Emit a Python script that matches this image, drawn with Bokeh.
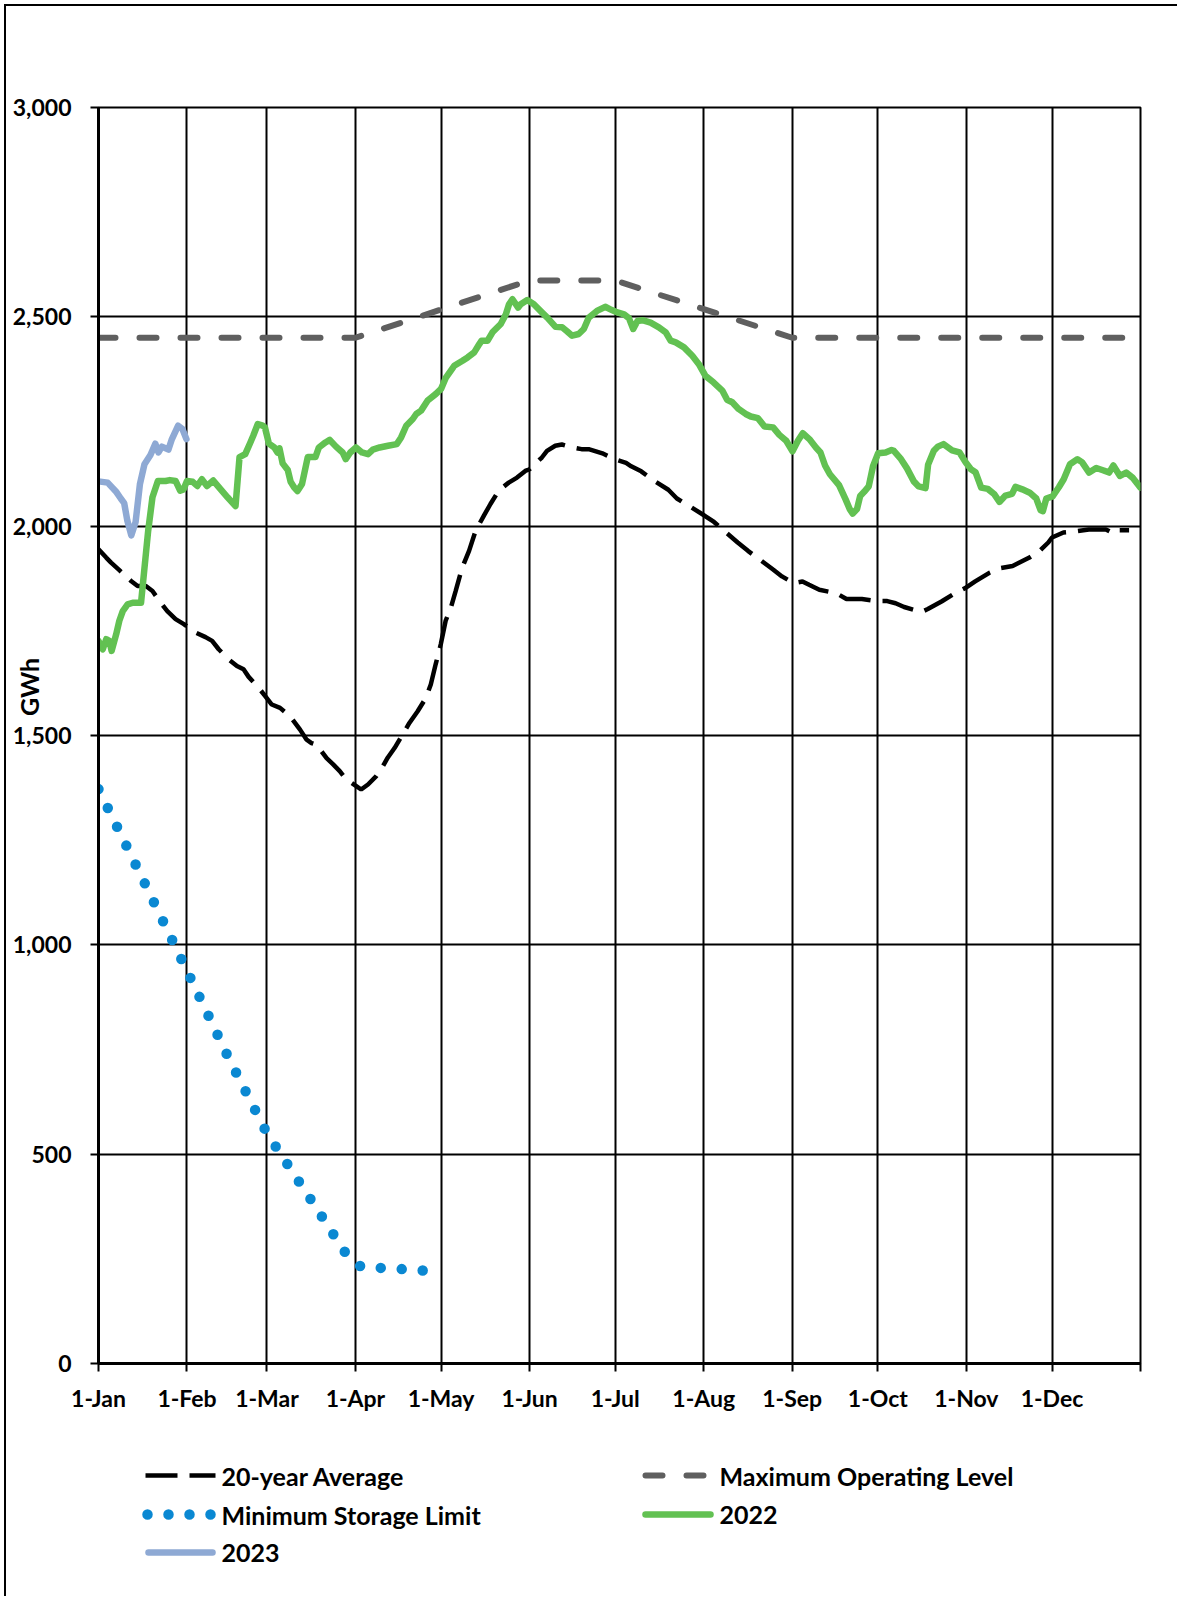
from bokeh.plotting import figure
from bokeh.models import FixedTicker, NumeralTickFormatter, Range1d
from bokeh.layouts import column
from bokeh.embed import file_html
from bokeh.resources import INLINE
from bokeh.core.properties import value

FONT = "Lato"

# ---------------- data ----------------
month_ticks = [0, 31, 59, 90, 120, 151, 181, 212, 243, 273, 304, 334, 365]
month_labels = ["1-Jan", "1-Feb", "1-Mar", "1-Apr", "1-May", "1-Jun", "1-Jul",
                "1-Aug", "1-Sep", "1-Oct", "1-Nov", "1-Dec", ""]
y_ticks = [0, 500, 1000, 1500, 2000, 2500, 3000]
y_title = "GWh"

# 20-year Average (day of year, GWh)
avg_days = [0, 2.7, 4.4, 7.3, 11.4, 13.7, 16.6, 18.9, 21.8, 24.1,
            27, 29.9, 34, 37.5, 39.8, 42.1, 45.6, 48.5, 50.8, 52.6,
            56.1, 58.4, 60.7, 63.6, 67.1, 70.6, 72.9, 74.6, 76.4, 79.9,
            82.2, 84.5, 86.8, 90.3, 92, 94.4, 97.3, 99, 101.3, 103.7,
            106.5, 108.9, 111.8, 114.7, 116.4, 118.1, 119.9, 121.6, 123.4, 125.1,
            127.4, 129.8, 132.1, 135, 137.3, 140.2, 143.7, 146.6, 149.5, 151,
            155.3, 157.1, 160, 162.3, 166, 169.2, 171.7, 176.5, 181.2, 184.8,
            186.6, 190.1, 194.9, 199.6, 202.6, 207.4, 212.1, 215.6, 219.8, 223.9,
            227.5, 232.3, 236.4, 239.4, 243.5, 246.6, 248.9, 252.5, 258.4, 262,
            267.4, 272.7, 276.3, 279.2, 282.2, 288.2, 290.5, 295.3, 300, 303.6,
            307.1, 311.9, 316, 320.2, 326.1, 329.7, 332.7, 334, 338, 342.8,
            346.9, 352.9, 355.8, 357.3, 361]
avg_vals = [1945, 1925, 1913, 1895, 1869, 1857, 1857, 1845, 1817, 1797,
            1778, 1766, 1746, 1735, 1726, 1706, 1682, 1666, 1658, 1640,
            1614, 1594, 1574, 1566, 1546, 1514, 1490, 1482, 1478, 1446,
            1431, 1415, 1395, 1379, 1371, 1383, 1403, 1419, 1447, 1470,
            1502, 1530, 1558, 1590, 1622, 1670, 1718, 1774, 1805, 1845,
            1901, 1941, 1989, 2025, 2053, 2085, 2104, 2116, 2132, 2136,
            2164, 2180, 2192, 2195, 2188, 2184, 2184, 2174, 2159, 2151,
            2143, 2131, 2107, 2087, 2066, 2046, 2026, 2010, 1985, 1961,
            1941, 1917, 1896, 1880, 1864, 1868, 1860, 1848, 1840, 1826,
            1826, 1821, 1821, 1816, 1807, 1795, 1802, 1820, 1840, 1852,
            1868, 1888, 1900, 1905, 1925, 1941, 1961, 1973, 1985, 1988,
            1992, 1992, 1982, 1990, 1990]

# Maximum Operating Level
max_days = [0, 90, 151, 181, 243, 365]
max_vals = [2450, 2450, 2587, 2587, 2450, 2450]

# Minimum Storage Limit
min_days = [0, 14, 31, 45, 59, 73, 87, 92, 105, 119]
min_vals = [1372, 1178, 938, 738, 550, 406, 259, 231, 226, 220]

# 2022
y2022_days = [0, 1.5, 2.7, 3.8, 4.6, 6.2, 7.3, 8.5, 10.2, 12,
              14.9, 16, 17.4, 18.9, 20.8, 23.5, 25, 27, 28.6, 29.8,
              31, 33, 34.6, 36.2, 38, 40.2, 42.8, 45.2, 48, 49.4,
              51.4, 53.2, 54.2, 55.8, 57.5, 58.3, 59.7, 61.6, 62.7, 63.4,
              64.5, 66.3, 67.3, 68.5, 69.7, 71.3, 73.3, 76, 77.2, 79.5,
              81, 83.2, 85.5, 86.6, 88.2, 90.2, 92.3, 94.4, 96.1, 98.5,
              101.4, 104.5, 106, 107.8, 110.1, 111.3, 113, 115.3, 118.2, 120,
              121.7, 124.6, 127.5, 129.3, 131.6, 133.4, 134.2, 136.3, 138, 140.9,
              142.7, 143.8, 145, 147, 147.9, 150.2, 152.5, 155.4, 157.2, 160.1,
              162.4, 164.2, 165.9, 168.2, 170, 171.7, 174.6, 177.5, 179.3, 181.2,
              184.1, 185.8, 187.3, 188.8, 190.5, 193.4, 196.3, 198.7, 200.4, 202.2,
              205.1, 208, 210.3, 212.6, 215.5, 218.5, 220.2, 222, 224.2, 226.7,
              228.5, 231, 233.3, 236.3, 238.5, 240.9, 243.1, 245, 246.7, 249,
              251.3, 252.9, 254.5, 256.2, 259.4, 261.7, 263.2, 264.2, 265.7, 266.8,
              268.2, 269.8, 271.3, 273.1, 275.7, 277.8, 278.6, 280.9, 283.2, 285.6,
              287.3, 289.7, 290.6, 292.6, 294, 296, 299, 301.6, 303.8, 305.6,
              307.2, 309.2, 311.5, 313.7, 315.6, 317.7, 320, 321.2, 323.6, 326.2,
              328.5, 330, 330.8, 332, 334.2, 336.4, 338.1, 340.3, 342.9, 344.5,
              347, 349.5, 352.1, 354, 355.5, 357.8, 360, 362.2, 365]
y2022_vals = [1726, 1706, 1730, 1726, 1702, 1742, 1774, 1797, 1813, 1817,
              1817, 1893, 1989, 2069, 2108, 2108, 2110, 2108, 2085, 2088,
              2108, 2106, 2096, 2112, 2096, 2109, 2088, 2069, 2048, 2165,
              2172, 2200, 2216, 2244, 2240, 2236, 2197, 2188, 2176, 2186,
              2150, 2134, 2106, 2093, 2084, 2101, 2165, 2165, 2188, 2200,
              2206, 2190, 2176, 2160, 2176, 2188, 2176, 2172, 2183, 2188,
              2192, 2196, 2212, 2240, 2256, 2268, 2276, 2300, 2316, 2328,
              2355, 2383, 2395, 2403, 2415, 2435, 2443, 2443, 2463, 2483,
              2506, 2530, 2542, 2522, 2530, 2540, 2530, 2510, 2498, 2476,
              2475, 2465, 2455, 2459, 2471, 2498, 2514, 2524, 2518, 2512,
              2506, 2497, 2471, 2490, 2492, 2486, 2475, 2463, 2443, 2439,
              2427, 2407, 2387, 2359, 2343, 2324, 2302, 2296, 2280, 2268,
              2262, 2258, 2238, 2236, 2218, 2204, 2179, 2204, 2222, 2208,
              2188, 2176, 2145, 2124, 2098, 2064, 2040, 2030, 2041, 2072,
              2082, 2095, 2143, 2174, 2176, 2182, 2180, 2162, 2138, 2107,
              2095, 2091, 2147, 2180, 2190, 2196, 2181, 2176, 2152, 2136,
              2129, 2092, 2089, 2077, 2058, 2073, 2077, 2094, 2088, 2080,
              2066, 2038, 2036, 2066, 2071, 2093, 2112, 2148, 2160, 2153,
              2128, 2139, 2133, 2128, 2145, 2120, 2128, 2116, 2092]

# 2023
y2023_days = [0, 3.2, 6.1, 7.8, 9, 10.1, 11.5, 13, 14.5, 16.1,
              18.2, 19.9, 21, 22.2, 24.5, 25.6, 27.9, 29.4, 30.8]
y2023_vals = [2107, 2104, 2083, 2066, 2055, 2013, 1978, 2010, 2100, 2148,
              2170, 2197, 2176, 2190, 2183, 2206, 2240, 2232, 2208]

legend_labels = ["20-year Average", "Maximum Operating Level",
                 "Minimum Storage Limit", "2022", "2023"]

# ---------------- styles ----------------
C_AVG = "black"
C_MAX = "#5f5f5f"
C_MIN = "#0a88d2"
C_22 = "#62c152"
C_23 = "#8ea9d4"

ORIG = 6                      # page offset of the figures (margin + border)
BL, BR, BT, BB = 92, 37, 101, 67
FW, FH = 1042, 1256

p = figure(frame_width=FW, frame_height=FH,
           min_border_left=BL, min_border_top=BT, min_border_right=BR,
           min_border_bottom=BB,
           x_range=Range1d(0, 365), y_range=Range1d(0, 3000),
           output_backend="svg", toolbar_location=None,
           background_fill_color="white", border_fill_color="white")

p.line(avg_days, avg_vals, line_color=C_AVG, line_width=4.5, line_dash="32 12")
p.line(max_days, max_vals, line_color=C_MAX, line_width=6, line_dash="17 24",
       line_cap="round")
p.line(min_days, min_vals, line_color=C_MIN, line_width=10.5, line_dash="0 21",
       line_cap="round")
p.line(y2022_days, y2022_vals, line_color=C_22, line_width=6.5,
       line_join="round", line_cap="round")
p.line(y2023_days, y2023_vals, line_color=C_23, line_width=6.5,
       line_join="round", line_cap="round")

p.xaxis.ticker = FixedTicker(ticks=month_ticks)
p.xaxis.major_label_overrides = {t: l for t, l in zip(month_ticks, month_labels)}
p.yaxis.ticker = FixedTicker(ticks=y_ticks)
p.yaxis.formatter = NumeralTickFormatter(format="0,0")
p.xgrid.ticker = FixedTicker(ticks=month_ticks)
p.ygrid.ticker = FixedTicker(ticks=y_ticks)

p.grid.grid_line_color = "black"
p.grid.grid_line_width = 2
p.grid.grid_line_alpha = 1

p.outline_line_color = "black"
p.outline_line_width = 2
p.outline_line_alpha = 1

for ax in (p.xaxis[0], p.yaxis[0]):
    ax.axis_line_color = "black"
    ax.axis_line_width = 3
    ax.major_tick_line_color = "black"
    ax.major_tick_line_width = 2
    ax.major_tick_out = 8
    ax.major_tick_in = 0
    ax.minor_tick_line_color = None
    ax.major_label_text_font = FONT
    ax.major_label_text_font_style = "bold"
    ax.major_label_text_font_size = "23px"
    ax.major_label_text_color = "black"

p.xaxis.major_label_standoff = 12
p.yaxis.major_label_standoff = 19

# axis title: sits above the frame's vertical centre (padding with no-break spaces)
p.yaxis.axis_label = "\u00a0" * 16 + y_title
p.yaxis.axis_label_text_font = FONT
p.yaxis.axis_label_text_font_style = "bold"
p.yaxis.axis_label_text_font_size = "25px"
p.yaxis.axis_label_text_color = "black"
p.yaxis.axis_label_standoff = -34

# ---------------- legend ----------------
LH = 166
LEG_TOP = ORIG + BT + FH + BB          # page y of legend figure top
leg = figure(frame_width=FW, height=LH,
             x_range=Range1d(ORIG + BL, ORIG + BL + FW), y_range=Range1d(LH, 0),
             output_backend="svg", toolbar_location=None,
             x_axis_location=None, y_axis_location=None,
             min_border_left=BL, min_border_right=BR, min_border_top=0,
             min_border_bottom=0, background_fill_color="white",
             border_fill_color="white")
leg.grid.visible = False
leg.outline_line_color = None

row_y = [1475 - LEG_TOP, 1514 - LEG_TOP, 1552 - LEG_TOP]
c1_x0, c1_x1, c1_t = 145, 215, 221
c2_x0, c2_x1, c2_t = 642, 713, 719

leg.line([c1_x0, c1_x1], [row_y[0]] * 2, line_color=C_AVG, line_width=4.5,
         line_dash="32 12")
leg.line([c2_x0 + 3, c2_x1 - 4], [row_y[0]] * 2, line_color=C_MAX, line_width=6,
         line_dash="17 24", line_cap="round")
leg.line([c1_x0 + 2, c1_x1 - 2.5], [row_y[1]] * 2, line_color=C_MIN,
         line_width=10.5, line_dash="0 21", line_cap="round")
leg.line([c2_x0 + 3, c2_x1 - 3], [row_y[1]] * 2, line_color=C_22, line_width=6.5,
         line_cap="round")
leg.line([c1_x0 + 3, c1_x1 - 3], [row_y[2]] * 2, line_color=C_23, line_width=6.5,
         line_cap="round")

leg.text(x=[c1_t, c2_t, c1_t, c2_t, c1_t],
         y=[row_y[0], row_y[0], row_y[1], row_y[1], row_y[2]],
         text=legend_labels, text_font=value(FONT), text_font_style="bold",
         text_font_size="25px", text_color="black", text_align="left",
         text_baseline="middle")

layout = column(p, leg, spacing=0,
                styles={"border-left": "2px solid black",
                        "border-top": "2px solid black",
                        "margin-left": "4px", "margin-top": "4px"})

open("out.html", "w").write(file_html(layout, INLINE))
